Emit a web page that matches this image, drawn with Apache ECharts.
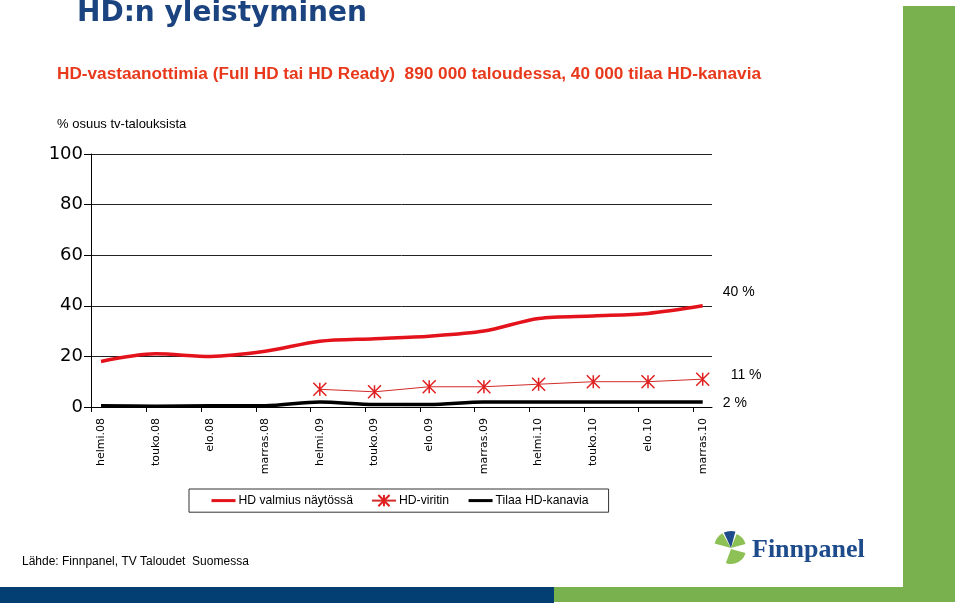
<!DOCTYPE html>
<html>
<head>
<meta charset="utf-8">
<script src="https://cdn.jsdelivr.net/npm/echarts@6/dist/echarts.min.js"></script>
<style>html,body{margin:0;padding:0;background:#fff}#c{width:960px;height:603px}</style>
</head>
<body>
<div id="c"></div>
<script>
const categories = ['helmi.08','touko.08','elo.08','marras.08','helmi.09','touko.09','elo.09','marras.09','helmi.10','touko.10','elo.10','marras.10'];
const seriesNames = ['HD valmius näytössä','HD-viritin','Tilaa HD-kanavia'];
const hdReady = [18,21,20,22,26,27,28,30,35,36,37,40];
const hdTuner = [null,null,null,null,7,6,8,8,9,10,10,11];
const hdChannels = [0.5,0.3,0.5,0.5,2,1,1,2,2,2,2,2];
const yTicks = [0,20,40,60,80,100];

const titleText = 'HD:n yleistyminen';
const subtitleText = 'HD-vastaanottimia (Full HD tai HD Ready)  890 000 taloudessa, 40 000 tilaa HD-kanavia';
const yTitleText = '% osuus tv-talouksista';
const sourceText = 'Lähde: Finnpanel, TV Taloudet  Suomessa';
const logoText = 'Finnpanel';

const toPts = arr => categories.map((c, i) => [i, arr[i]]);
const catIdx = categories.map((c, i) => i);
const tickPos = categories.map((c, i) => i - 0.17);

const chart = echarts.init(document.getElementById('c'), null, {renderer: 'canvas'});
const deg = Math.PI / 180;
const option = {
  animation: false,
  backgroundColor: '#fff',
  grid: {left: 91, right: 248, top: 154, bottom: 196, containLabel: false},
  xAxis: {
    type: 'value', min: -0.183, max: 11.17,
    splitLine: {show: false},
    axisLine: {show: true, onZero: false, lineStyle: {color: '#000', width: 1}},
    axisTick: {show: true, length: 5, customValues: tickPos, lineStyle: {color: '#000'}},
    axisLabel: {
      show: true, customValues: catIdx, rotate: 90, margin: 11,
      formatter: v => categories[Math.round(v)],
      fontFamily: 'DejaVu Sans', fontSize: 11, color: '#000'
    }
  },
  yAxis: {
    type: 'value', min: yTicks[0], max: yTicks[yTicks.length - 1], interval: yTicks[1] - yTicks[0],
    splitLine: {show: true, lineStyle: {color: '#222', width: 1}},
    axisLine: {show: true, onZero: false, lineStyle: {color: '#000', width: 1}},
    axisTick: {show: true, length: 7, lineStyle: {color: '#000'}},
    axisLabel: {margin: 8, fontFamily: 'DejaVu Sans', fontSize: 18, color: '#000'}
  },
  legend: {
    left: 189, top: 489,
    padding: [5, 20, 5, 21],
    itemGap: 18, itemWidth: 24, itemHeight: 14,
    borderColor: '#333', borderWidth: 1,
    textStyle: {fontFamily: 'Liberation Sans', fontSize: 12.2, color: '#000', padding: [0, 0, 0, -2]},
    data: [
      {name: seriesNames[0], lineStyle: {width: 3}},
      {name: seriesNames[1]},
      {name: seriesNames[2], lineStyle: {width: 3}}
    ]
  },
  series: [
    {
      name: seriesNames[0], type: 'line', data: toPts(hdReady), smooth: 0.3,
      symbol: 'none', lineStyle: {color: '#e3121b', width: 3.5}, itemStyle: {color: 'rgba(0,0,0,0)', borderWidth: 0},
      endLabel: {show: true, formatter: p => p.value[1] + ' %', offset: [20, -14], distance: 0,
        fontFamily: 'Liberation Sans', fontSize: 14, color: '#000'}
    },
    {
      name: seriesNames[1], type: 'line', data: toPts(hdTuner),
      symbol: 'path://M0 0L12 12M12 0L0 12M6 0L6 12', symbolSize: 13, showSymbol: true,
      lineStyle: {color: '#d42a2a', width: 1},
      itemStyle: {color: 'rgba(0,0,0,0)', borderColor: '#e02020', borderWidth: 1.5},
      endLabel: {show: true, formatter: p => p.value[1] + ' %', offset: [28, -4], distance: 0,
        fontFamily: 'Liberation Sans', fontSize: 14, color: '#000'}
    },
    {
      name: seriesNames[2], type: 'line', data: toPts(hdChannels), smooth: 0.3,
      symbol: 'none', lineStyle: {color: '#000', width: 3.5}, itemStyle: {color: 'rgba(0,0,0,0)', borderWidth: 0},
      endLabel: {show: true, formatter: p => p.value[1] + ' %', offset: [20, 1], distance: 0,
        fontFamily: 'Liberation Sans', fontSize: 14, color: '#000'}
    }
  ],
  graphic: [
    {type: 'rect', shape: {x: 903, y: 6, width: 52, height: 596}, style: {fill: '#79b14f'}, z: -1},
    {type: 'rect', shape: {x: 554, y: 587, width: 401, height: 15}, style: {fill: '#79b14f'}, z: -1},
    {type: 'rect', shape: {x: 0, y: 587, width: 554, height: 16}, style: {fill: '#033f73'}, z: -1},
    {type: 'text', x: 77, y: 14, style: {text: titleText, font: 'bold 28px "DejaVu Sans"', fill: '#1b4380', textVerticalAlign: 'middle', verticalAlign: 'middle'}},
    {type: 'text', x: 57, y: 74, style: {text: subtitleText, font: 'bold 17.2px "Liberation Sans"', fill: '#e8391c', textVerticalAlign: 'middle', verticalAlign: 'middle'}},
    {type: 'text', x: 57, y: 124, style: {text: yTitleText, font: '13px "Liberation Sans"', fill: '#000', textVerticalAlign: 'middle', verticalAlign: 'middle'}},
    {type: 'text', x: 22, y: 562, style: {text: sourceText, font: '12px "Liberation Sans"', fill: '#000', textVerticalAlign: 'middle', verticalAlign: 'middle'}},
    {type: 'text', x: 752, y: 550, style: {text: logoText, font: 'bold 26px "Liberation Serif"', fill: '#1d4b8b', textVerticalAlign: 'middle', verticalAlign: 'middle'}},
    {type: 'sector', shape: {cx: 731, cy: 548, r0: 0, r: 17, startAngle: -165 * deg, endAngle: -120 * deg}, style: {fill: '#8dc155'}},
    {type: 'sector', shape: {cx: 731, cy: 548, r0: 0, r: 17, startAngle: -115 * deg, endAngle: -75 * deg}, style: {fill: '#1d4b8b'}},
    {type: 'sector', shape: {cx: 731, cy: 548, r0: 0, r: 15, startAngle: -68 * deg, endAngle: -15 * deg}, style: {fill: '#8dc155'}},
    {type: 'sector', shape: {cx: 731, cy: 549, r0: 0, r: 15, startAngle: 15 * deg, endAngle: 110 * deg}, style: {fill: '#8dc155'}}
  ]
};
chart.setOption(option);
</script>
</body>
</html>
